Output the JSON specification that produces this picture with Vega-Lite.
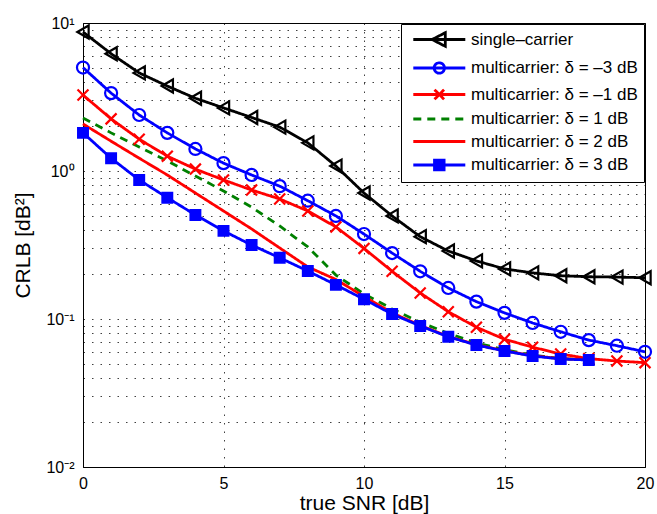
{
  "$schema": "https://vega.github.io/schema/vega-lite/v6.json",
  "width": 562,
  "height": 444,
  "autosize": {"type": "none"},
  "padding": {"left": 83, "top": 23, "right": 12, "bottom": 47},
  "config": {
    "font": "Liberation Sans",
    "view": {"stroke": "#000000", "strokeWidth": 1},
    "axis": {"labelColor": "#000", "titleColor": "#000", "domainColor": "#000", "labelFontSize": 16, "titleFontSize": 21, "titleFontWeight": "normal", "gridColor": "#000", "gridOpacity": 0.75, "gridDash": [1.5, 7], "gridWidth": 1, "ticks": false}
  },
  "data": {"values": [
    {"x":0,"v":8.7,"s":"single–carrier"},{"x":1,"v":6.2,"s":"single–carrier"},{"x":2,"v":4.6,"s":"single–carrier"},{"x":3,"v":3.75,"s":"single–carrier"},{"x":4,"v":3.1,"s":"single–carrier"},{"x":5,"v":2.67,"s":"single–carrier"},{"x":6,"v":2.3,"s":"single–carrier"},{"x":7,"v":1.98,"s":"single–carrier"},{"x":8,"v":1.55,"s":"single–carrier"},{"x":9,"v":1.08,"s":"single–carrier"},{"x":10,"v":0.71,"s":"single–carrier"},{"x":11,"v":0.497,"s":"single–carrier"},{"x":12,"v":0.36,"s":"single–carrier"},{"x":13,"v":0.288,"s":"single–carrier"},{"x":14,"v":0.247,"s":"single–carrier"},{"x":15,"v":0.218,"s":"single–carrier"},{"x":16,"v":0.205,"s":"single–carrier"},{"x":17,"v":0.196,"s":"single–carrier"},{"x":18,"v":0.193,"s":"single–carrier"},{"x":19,"v":0.192,"s":"single–carrier"},{"x":20,"v":0.19,"s":"single–carrier"},
    {"x":0,"v":5.0,"s":"multicarrier: δ = –3 dB"},{"x":1,"v":3.36,"s":"multicarrier: δ = –3 dB"},{"x":2,"v":2.39,"s":"multicarrier: δ = –3 dB"},{"x":3,"v":1.81,"s":"multicarrier: δ = –3 dB"},{"x":4,"v":1.41,"s":"multicarrier: δ = –3 dB"},{"x":5,"v":1.13,"s":"multicarrier: δ = –3 dB"},{"x":6,"v":0.94,"s":"multicarrier: δ = –3 dB"},{"x":7,"v":0.79,"s":"multicarrier: δ = –3 dB"},{"x":8,"v":0.63,"s":"multicarrier: δ = –3 dB"},{"x":9,"v":0.497,"s":"multicarrier: δ = –3 dB"},{"x":10,"v":0.375,"s":"multicarrier: δ = –3 dB"},{"x":11,"v":0.279,"s":"multicarrier: δ = –3 dB"},{"x":12,"v":0.21,"s":"multicarrier: δ = –3 dB"},{"x":13,"v":0.162,"s":"multicarrier: δ = –3 dB"},{"x":14,"v":0.131,"s":"multicarrier: δ = –3 dB"},{"x":15,"v":0.11,"s":"multicarrier: δ = –3 dB"},{"x":16,"v":0.094,"s":"multicarrier: δ = –3 dB"},{"x":17,"v":0.082,"s":"multicarrier: δ = –3 dB"},{"x":18,"v":0.072,"s":"multicarrier: δ = –3 dB"},{"x":19,"v":0.066,"s":"multicarrier: δ = –3 dB"},{"x":20,"v":0.06,"s":"multicarrier: δ = –3 dB"},
    {"x":0,"v":3.26,"s":"multicarrier: δ = –1 dB"},{"x":1,"v":2.25,"s":"multicarrier: δ = –1 dB"},{"x":2,"v":1.64,"s":"multicarrier: δ = –1 dB"},{"x":3,"v":1.26,"s":"multicarrier: δ = –1 dB"},{"x":4,"v":1.03,"s":"multicarrier: δ = –1 dB"},{"x":5,"v":0.87,"s":"multicarrier: δ = –1 dB"},{"x":6,"v":0.744,"s":"multicarrier: δ = –1 dB"},{"x":7,"v":0.647,"s":"multicarrier: δ = –1 dB"},{"x":8,"v":0.537,"s":"multicarrier: δ = –1 dB"},{"x":9,"v":0.419,"s":"multicarrier: δ = –1 dB"},{"x":10,"v":0.3,"s":"multicarrier: δ = –1 dB"},{"x":11,"v":0.21,"s":"multicarrier: δ = –1 dB"},{"x":12,"v":0.15,"s":"multicarrier: δ = –1 dB"},{"x":13,"v":0.112,"s":"multicarrier: δ = –1 dB"},{"x":14,"v":0.088,"s":"multicarrier: δ = –1 dB"},{"x":15,"v":0.073,"s":"multicarrier: δ = –1 dB"},{"x":16,"v":0.0645,"s":"multicarrier: δ = –1 dB"},{"x":17,"v":0.058,"s":"multicarrier: δ = –1 dB"},{"x":18,"v":0.054,"s":"multicarrier: δ = –1 dB"},{"x":19,"v":0.052,"s":"multicarrier: δ = –1 dB"},{"x":20,"v":0.0507,"s":"multicarrier: δ = –1 dB"},
    {"x":0,"v":2.28,"s":"multicarrier: δ = 1 dB"},{"x":1,"v":1.81,"s":"multicarrier: δ = 1 dB"},{"x":2,"v":1.45,"s":"multicarrier: δ = 1 dB"},{"x":3,"v":1.17,"s":"multicarrier: δ = 1 dB"},{"x":4,"v":0.925,"s":"multicarrier: δ = 1 dB"},{"x":5,"v":0.733,"s":"multicarrier: δ = 1 dB"},{"x":6,"v":0.57,"s":"multicarrier: δ = 1 dB"},{"x":7,"v":0.425,"s":"multicarrier: δ = 1 dB"},{"x":8,"v":0.307,"s":"multicarrier: δ = 1 dB"},{"x":9,"v":0.198,"s":"multicarrier: δ = 1 dB"},{"x":10,"v":0.148,"s":"multicarrier: δ = 1 dB"},{"x":11,"v":0.117,"s":"multicarrier: δ = 1 dB"},{"x":12,"v":0.095,"s":"multicarrier: δ = 1 dB"},{"x":13,"v":0.08,"s":"multicarrier: δ = 1 dB"},{"x":14,"v":0.069,"s":"multicarrier: δ = 1 dB"},{"x":15,"v":0.062,"s":"multicarrier: δ = 1 dB"},{"x":16,"v":0.057,"s":"multicarrier: δ = 1 dB"},{"x":17,"v":0.054,"s":"multicarrier: δ = 1 dB"},{"x":18,"v":0.053,"s":"multicarrier: δ = 1 dB"},
    {"x":0,"v":2.08,"s":"multicarrier: δ = 2 dB"},{"x":1,"v":1.59,"s":"multicarrier: δ = 2 dB"},{"x":2,"v":1.22,"s":"multicarrier: δ = 2 dB"},{"x":3,"v":0.94,"s":"multicarrier: δ = 2 dB"},{"x":4,"v":0.71,"s":"multicarrier: δ = 2 dB"},{"x":5,"v":0.537,"s":"multicarrier: δ = 2 dB"},{"x":6,"v":0.406,"s":"multicarrier: δ = 2 dB"},{"x":7,"v":0.302,"s":"multicarrier: δ = 2 dB"},{"x":8,"v":0.225,"s":"multicarrier: δ = 2 dB"},{"x":9,"v":0.185,"s":"multicarrier: δ = 2 dB"},{"x":10,"v":0.142,"s":"multicarrier: δ = 2 dB"},{"x":11,"v":0.11,"s":"multicarrier: δ = 2 dB"},{"x":12,"v":0.0905,"s":"multicarrier: δ = 2 dB"},{"x":13,"v":0.0762,"s":"multicarrier: δ = 2 dB"},{"x":14,"v":0.067,"s":"multicarrier: δ = 2 dB"},{"x":15,"v":0.061,"s":"multicarrier: δ = 2 dB"},{"x":16,"v":0.0565,"s":"multicarrier: δ = 2 dB"},{"x":17,"v":0.054,"s":"multicarrier: δ = 2 dB"},{"x":18,"v":0.053,"s":"multicarrier: δ = 2 dB"},
    {"x":0,"v":1.81,"s":"multicarrier: δ = 3 dB"},{"x":1,"v":1.22,"s":"multicarrier: δ = 3 dB"},{"x":2,"v":0.87,"s":"multicarrier: δ = 3 dB"},{"x":3,"v":0.66,"s":"multicarrier: δ = 3 dB"},{"x":4,"v":0.505,"s":"multicarrier: δ = 3 dB"},{"x":5,"v":0.394,"s":"multicarrier: δ = 3 dB"},{"x":6,"v":0.316,"s":"multicarrier: δ = 3 dB"},{"x":7,"v":0.259,"s":"multicarrier: δ = 3 dB"},{"x":8,"v":0.211,"s":"multicarrier: δ = 3 dB"},{"x":9,"v":0.17,"s":"multicarrier: δ = 3 dB"},{"x":10,"v":0.136,"s":"multicarrier: δ = 3 dB"},{"x":11,"v":0.108,"s":"multicarrier: δ = 3 dB"},{"x":12,"v":0.0898,"s":"multicarrier: δ = 3 dB"},{"x":13,"v":0.0758,"s":"multicarrier: δ = 3 dB"},{"x":14,"v":0.0667,"s":"multicarrier: δ = 3 dB"},{"x":15,"v":0.0608,"s":"multicarrier: δ = 3 dB"},{"x":16,"v":0.0562,"s":"multicarrier: δ = 3 dB"},{"x":17,"v":0.0537,"s":"multicarrier: δ = 3 dB"},{"x":18,"v":0.0528,"s":"multicarrier: δ = 3 dB"}
  ]},
  "encoding": {
    "x": {"field": "x", "type": "quantitative", "scale": {"domain": [0, 20], "nice": false, "zero": false},
      "axis": {"title": "true SNR [dB]", "values": [0, 5, 10, 15, 20], "labelPadding": 8, "titlePadding": 1, "labelFlush": false}},
    "y": {"field": "v", "type": "quantitative", "scale": {"type": "log", "domain": [0.01, 10], "nice": false},
      "axis": {"title": "CRLB [dB²]", "titlePadding": 12, "labelPadding": 9,
        "values": [0.01,0.02,0.03,0.04,0.05,0.06,0.07,0.08,0.09,0.1,0.2,0.3,0.4,0.5,0.6,0.7,0.8,0.9,1,2,3,4,5,6,7,8,9,10],
        "labelExpr": "datum.value == 10 ? '10¹' : datum.value == 1 ? '10⁰' : datum.value == 0.1 ? '10⁻¹' : datum.value == 0.01 ? '10⁻²' : ''"}}
  },
  "layer": [
    {
      "mark": {"type": "line", "strokeWidth": 2.8},
      "encoding": {
        "color": {"field": "s", "type": "nominal",
          "scale": {"domain": ["single–carrier","multicarrier: δ = –3 dB","multicarrier: δ = –1 dB","multicarrier: δ = 1 dB","multicarrier: δ = 2 dB","multicarrier: δ = 3 dB"],
                    "range": ["#000000","#0000ff","#ff0000","#008000","#ff0000","#0000ff"]},
          "legend": {"title": null, "orient": "top-right", "offset": 1, "padding": 6, "fillColor": "#ffffff", "strokeColor": "#000000",
            "labelFontSize": 17, "labelColor": "#000", "labelLimit": 400, "symbolSize": 256, "labelOffset": 45, "rowPadding": 4.5, "symbolStrokeWidth": 2.8,
            "encode": {"symbols": {"update": {
              "shape": {"signal": "['M-0.4,0H6.1M1.95,0L3.6,-0.85L3.6,0.85Z','M-0.4,0H6.1M3.5,0A0.65,0.65 0 1,1 2.2,0A0.65,0.65 0 1,1 3.5,0','M-0.4,0H6.1M2.25,-0.6L3.45,0.6M2.25,0.6L3.45,-0.6','M-0.4,0H6.1','M-0.4,0H6.1','M-0.4,0H6.1M2.25,-0.6H3.45V0.6H2.25Z'][indexof(domain('color'), datum.value)]"},
              "stroke": {"signal": "scale('color', datum.value)"},
              "fill": {"signal": "indexof(domain('color'), datum.value) == 5 ? '#0000ff' : 'transparent'"},
              "strokeDash": {"signal": "indexof(domain('color'), datum.value) == 3 ? [7,5] : [1,0]"},
              "strokeWidth": {"value": 2.8},
              "opacity": {"value": 1}
            }}}}},
        "strokeDash": {"field": "s", "type": "nominal",
          "scale": {"domain": ["single–carrier","multicarrier: δ = –3 dB","multicarrier: δ = –1 dB","multicarrier: δ = 1 dB","multicarrier: δ = 2 dB","multicarrier: δ = 3 dB"],
                    "range": [[1,0],[1,0],[1,0],[8,6],[1,0],[1,0]]},
          "legend": null}
      }
    },
    {
      "transform": [{"filter": {"field": "s", "oneOf": ["single–carrier","multicarrier: δ = –3 dB","multicarrier: δ = –1 dB","multicarrier: δ = 3 dB"]}}],
      "mark": {"type": "point", "filled": false, "strokeWidth": 2.2, "opacity": 1},
      "encoding": {
        "stroke": {"field": "s", "type": "nominal",
          "scale": {"domain": ["single–carrier","multicarrier: δ = –3 dB","multicarrier: δ = –1 dB","multicarrier: δ = 3 dB"], "range": ["#000000","#0000ff","#ff0000","#0000ff"]}, "legend": null},
        "shape": {"field": "s", "type": "nominal",
          "scale": {"domain": ["single–carrier","multicarrier: δ = –3 dB","multicarrier: δ = –1 dB","multicarrier: δ = 3 dB"], "range": ["triangle-left","circle","M-1,-1L1,1M-1,1L1,-1","square"]}, "legend": null},
        "size": {"field": "s", "type": "nominal",
          "scale": {"domain": ["single–carrier","multicarrier: δ = –3 dB","multicarrier: δ = –1 dB","multicarrier: δ = 3 dB"], "range": [170, 95, 110, 75]}, "legend": null},
        "fill": {"condition": {"test": "datum.s === 'multicarrier: δ = 3 dB'", "value": "#0000ff"}, "value": "transparent"}
      }
    }
  ]
}
